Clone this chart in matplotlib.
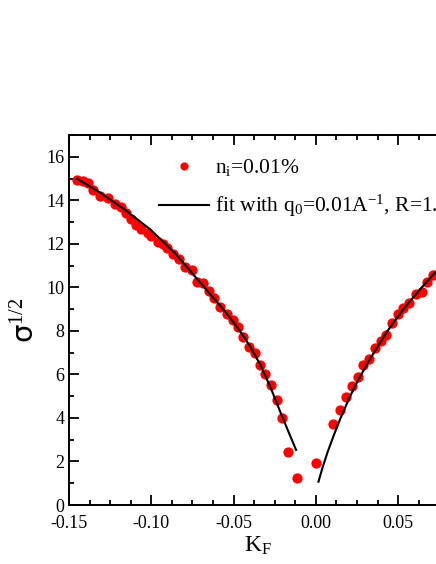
import matplotlib
matplotlib.use("Agg")
import matplotlib.pyplot as plt
from matplotlib.ticker import MultipleLocator

plt.rcParams["font.family"] = ["Liberation Serif", "DejaVu Sans"]
plt.rcParams["mathtext.fontset"] = "custom"
plt.rcParams["mathtext.rm"] = "Liberation Serif"
plt.rcParams["mathtext.it"] = "Liberation Serif:italic"
plt.rcParams["mathtext.sf"] = "DejaVu Sans"

# measured points, left branch (K_F < 0)
kf_left = [-0.1450, -0.1414, -0.1384, -0.1353, -0.1311, -0.1262, -0.1219, -0.1183,
           -0.1153, -0.1122, -0.1092, -0.1062, -0.1019, -0.1001, -0.0958, -0.0930,
           -0.0903, -0.0867, -0.0830, -0.0794, -0.0752, -0.0721, -0.0685, -0.0648,
           -0.0618, -0.0581, -0.0539, -0.0502, -0.0472, -0.0442, -0.0405, -0.0369,
           -0.0338, -0.0308, -0.0272, -0.0235, -0.0205, -0.0168, -0.0114]
sig_left = [14.94, 14.90, 14.80, 14.48, 14.21, 14.11, 13.84, 13.70,
            13.43, 13.15, 12.88, 12.70, 12.51, 12.35, 12.09, 12.00,
            11.82, 11.54, 11.31, 10.94, 10.80, 10.25, 10.21, 9.84,
            9.52, 9.10, 8.78, 8.51, 8.18, 7.72, 7.26, 6.99,
            6.44, 6.02, 5.52, 4.83, 4.00, 2.44, 1.24]

# measured points, right branch (K_F > 0)
kf_right = [0.0000, 0.0105, 0.0148, 0.0184, 0.0221, 0.0257, 0.0287, 0.0324, 0.0360,
            0.0397, 0.0427, 0.0463, 0.0500, 0.0530, 0.0567, 0.0609, 0.0646, 0.0676,
            0.0713]
sig_right = [1.93, 3.72, 4.37, 4.97, 5.47, 5.89, 6.44, 6.71, 7.22,
             7.54, 7.82, 8.37, 8.78, 9.06, 9.29, 9.70, 9.79, 10.25,
             10.57]

# fit curves (q0 = 0.01 A^-1, R = 1)
fit_left_x = [-0.1452, -0.1311, -0.1159, -0.1007, -0.0854, -0.0703, -0.0551, -0.0460,
              -0.0399, -0.0338, -0.0278, -0.0217, -0.0160, -0.0120]
fit_left_y = [14.99, 14.35, 13.55, 12.67, 11.55, 10.22, 8.88, 7.98,
              7.28, 6.45, 5.45, 4.30, 3.25, 2.53]
fit_right_x = [0.0016, 0.0040, 0.0070, 0.0105, 0.0148, 0.0204, 0.0260, 0.0330,
               0.0431, 0.0532, 0.0634, 0.0725, 0.0800]
fit_right_y = [1.07, 1.70, 2.40, 3.12, 3.95, 4.93, 5.78, 6.72,
               7.95, 9.00, 9.92, 10.68, 11.30]

fig = plt.figure(figsize=(4.36, 5.64), dpi=100)
ax = fig.add_axes([0.1583, 0.1046, 0.868, 0.656])

ax.plot(kf_left, sig_left, "o", color="#ff0000", markersize=7.4, markeredgewidth=0,
        label=r"n$_\mathrm{i}$=0.01%")
ax.plot(kf_right, sig_right, "o", color="#ff0000", markersize=7.4, markeredgewidth=0)
ax.plot(fit_left_x, fit_left_y, "-", color="black", linewidth=1.5,
        label=r"fit with q$_\mathrm{0}$=0.01A$^\mathrm{-1}$, R=1.")
ax.plot(fit_right_x, fit_right_y, "-", color="black", linewidth=1.5)

ax.set_xlim(-0.15, 0.08)
ax.set_ylim(0, 17)
ax.xaxis.set_major_locator(MultipleLocator(0.05))
ax.xaxis.set_minor_locator(MultipleLocator(0.0125))
ax.yaxis.set_major_locator(MultipleLocator(2))
ax.yaxis.set_minor_locator(MultipleLocator(1))
ax.xaxis.set_major_formatter(plt.FuncFormatter(lambda v, p: f"{v:.2f}"))
ax.tick_params(which="both", direction="in", top=True, right=False, width=1.3,
               labelsize=13)
ax.tick_params(axis="x", which="major", pad=7)
ax.tick_params(which="major", length=7)
ax.tick_params(which="minor", length=3.6)
for side in ("left", "bottom", "top"):
    ax.spines[side].set_linewidth(1.4)
ax.spines["right"].set_visible(False)

ax.set_xlabel(r"K$_\mathrm{F}$", fontsize=17, labelpad=2)
ax.set_ylabel(r"$\mathsf{\sigma}^{1/2}$", fontsize=21, labelpad=4)

ax.legend(loc="upper left", bbox_to_anchor=(0.238, 0.94), frameon=False,
          fontsize=15.5, handlelength=2.3, handletextpad=0.3, labelspacing=0.7,
          borderpad=0, borderaxespad=0, markerscale=0.8)

fig.savefig("out.png", dpi=100)
